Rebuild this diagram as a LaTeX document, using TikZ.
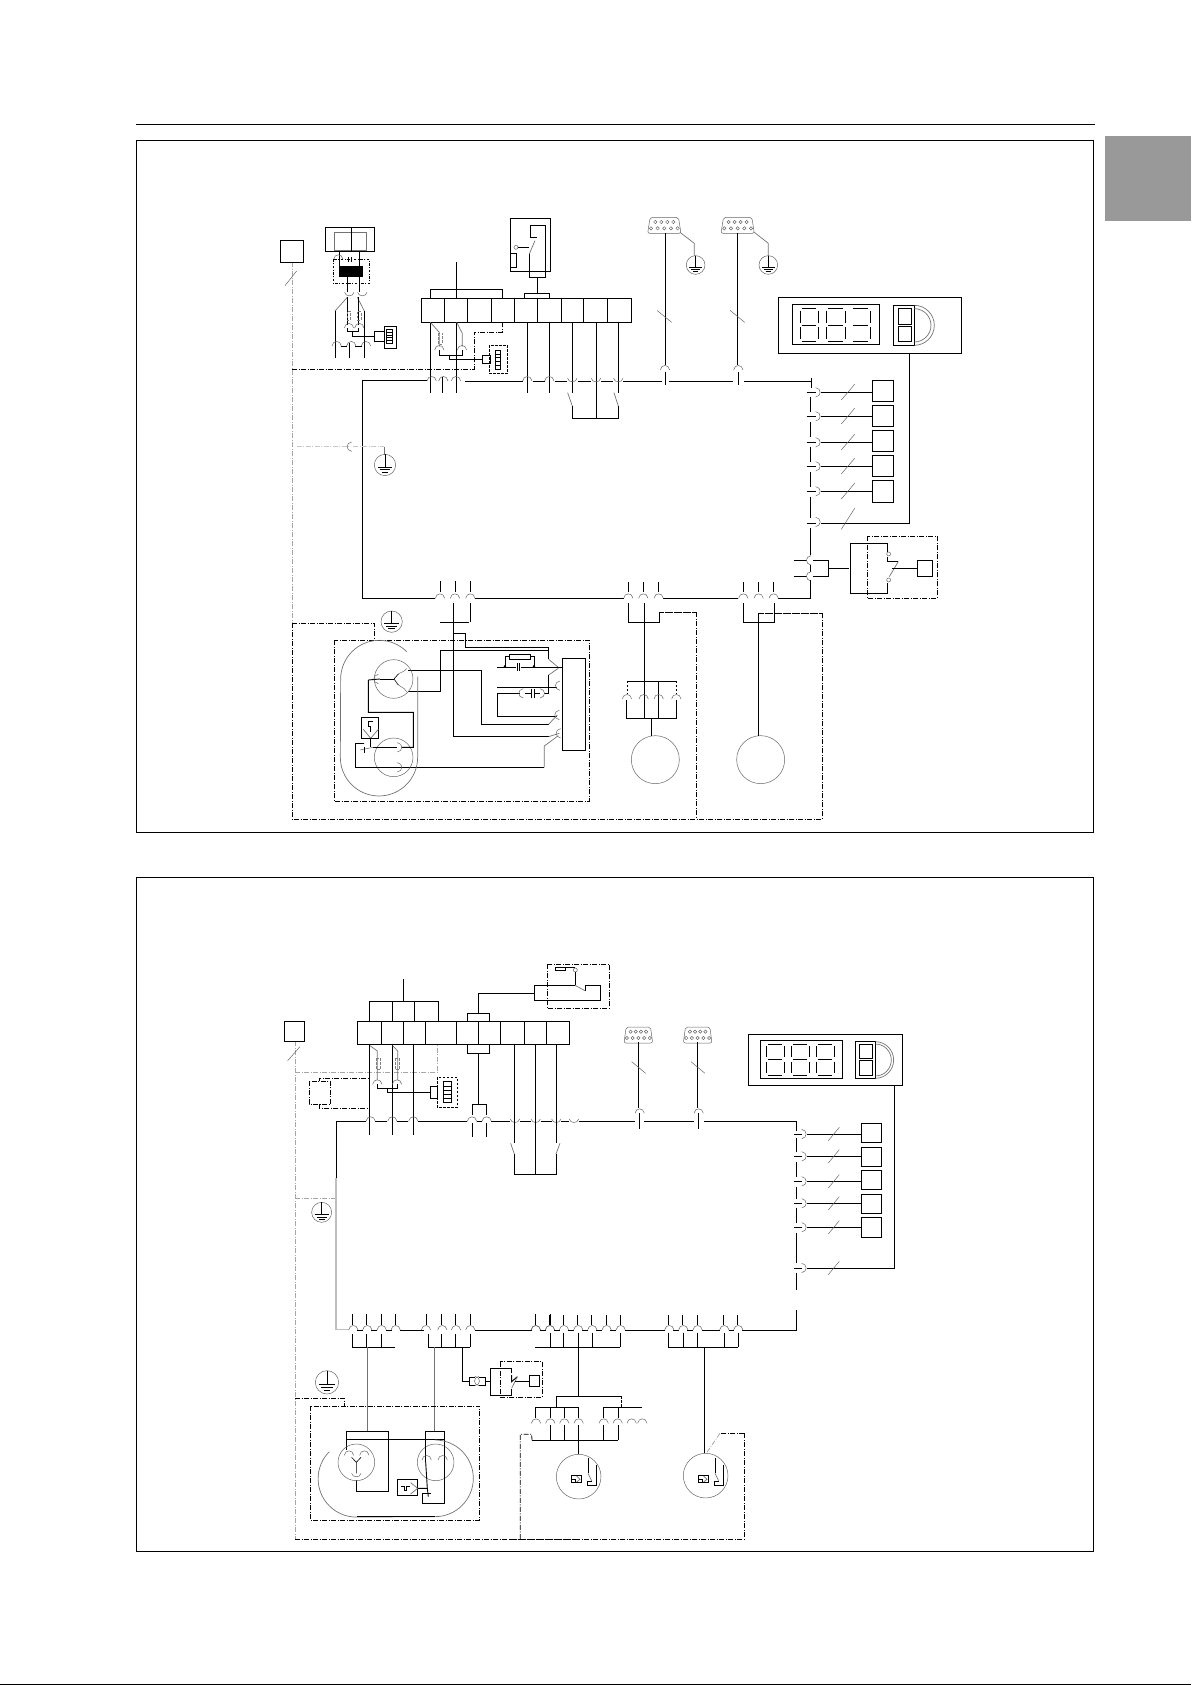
\documentclass[tikz,border=0pt]{standalone}
\tikzset{wire/.style = {line width = 0.9pt, black, line join = miter}}
\tikzset{arcw/.style = {line width = 0.5pt, black!60}}
\tikzset{grayw/.style = {line width = 0.7pt, black!55}}
\tikzset{dd/.style = {line width = 0.8pt, dash pattern = on 5pt off 1.5pt on 1pt off 1.5pt}}
\tikzset{ddg/.style = {line width = 0.8pt, black!35, dash pattern = on 5pt off 1.5pt on 1pt off 1.5pt}}
\tikzset{dsh/.style = {line width = 0.8pt, dash pattern = on 2.5pt off 1.5pt}}
\tikzset{zoomed/.style = {x = 0.3333pt, y = -0.3333pt}}
\newcommand{\capu}[2]{\draw[arcw] (#1-14,#2) .. controls (#1-12,#2-18) and (#1+12,#2-18) .. (#1+14,#2);}
\newcommand{\capd}[2]{\draw[arcw] (#1-14,#2) .. controls (#1-12,#2+14) and (#1+12,#2+14) .. (#1+14,#2);}
\newcommand{\capr}[2]{\draw[arcw] (#1,#2-14) .. controls (#1+18,#2-12) and (#1+18,#2+12) .. (#1,#2+14);}
\newcommand{\capl}[2]{\draw[arcw] (#1,#2-14) .. controls (#1-18,#2-12) and (#1-18,#2+12) .. (#1,#2+14);}
\newcommand{\gnd}[3]{\draw[arcw] (#1,#2) circle (#3);
  \draw[wire, line width = 0.6pt] (#1,#2-#3) -- (#1,#2+.2*#3) (#1-.7*#3,#2+.2*#3) -- (#1+.7*#3,#2+.2*#3)
    (#1-.5*#3,#2+.45*#3) -- (#1+.5*#3,#2+.45*#3) (#1-.3*#3,#2+.65*#3) -- (#1+.3*#3,#2+.65*#3);}
\newcommand{\dbnine}[3]{\draw[arcw, rounded corners = 2pt] (#1-#3*.85,#2-24) -- (#1+#3*.85,#2-24) -- (#1+#3,#2+24) -- (#1-#3,#2+24) -- cycle;
  \foreach \dx in {-.54,-.18,.18,.54} {\draw[arcw] (#1+#3*\dx,#2-10) circle (5);}
  \foreach \dx in {-.8,-.4,0,.4,.8} {\draw[arcw] (#1+#3*\dx,#2+9) circle (5);}}
\newcommand{\segh}[4]{\draw[wire, line width = 0.6pt] (#1+.1*#3,#2) -- (#1+.9*#3,#2) (#1+.1*#3,#2+.5*#4) -- (#1+.9*#3,#2+.5*#4) (#1+.1*#3,#2+#4) -- (#1+.9*#3,#2+#4)
  (#1+#3,#2+.07*#4) -- (#1+#3,#2+.43*#4) (#1+#3,#2+.57*#4) -- (#1+#3,#2+.93*#4);}
\newcommand{\segv}[4]{\draw[wire, line width = 0.6pt] (#1,#2+.07*#4) -- (#1,#2+.43*#4) (#1,#2+.57*#4) -- (#1,#2+.93*#4);}
\newcommand{\ladder}[4]{\draw[wire, line width = 0.6pt] (#1,#2) rectangle (#1+#3,#2+#4);
  \foreach \dy in {.2,.4,.6,.8} {\draw[wire, line width = 0.6pt] (#1,#2+\dy*#4) -- (#1+#3,#2+\dy*#4);}}
\begin{document}
\begin{tikzpicture}[x=1pt,y=-1pt]
\useasboundingbox (0,0) rectangle (1191,1685);
\draw[wire] (136,124.3) -- (1095,124.3);
\draw[wire] (136.3,140.3) rectangle (1093.3,832);
\draw[wire] (136.3,877.5) rectangle (1093.3,1551.7);
\fill[black!40] (1105,136) rectangle (1191,220.7);
\draw[wire] (0,1684.3) -- (1191,1684.3);
% upper diagram, long lines
\draw[ddg] (292.3,262.3) -- (292.3,623.3);
\draw[dd] (292.3,623.3) -- (292.3,819.3) -- (822.3,819.3) -- (822.3,613.3) -- (758.3,613.3);
\draw[dd] (696.7,612.3) -- (696.7,819.3);
\draw[dd] (659.3,622.3) -- (659.3,612.3) -- (696.7,612.3);
\draw[wire] (362.3,380.7) -- (362.3,598.3);
% upper diagram, top left
\begin{scope}[shift={(250,200)},zoomed]
\draw[wire] (91,122) rectangle (160,187);
\draw[arcw] (105,257) -- (140,213);
\draw[wire] (226,82) rectangle (373,155);
\draw[grayw] (253,97) rectangle (350,150);
\draw[wire] (304,82) -- (304,155);
\draw[wire] (268,155) -- (268,198) (328,155) -- (328,198);
\capu{265}{178}
\draw[wire, line width = 0.6pt] (295,172) -- (295,185) (303,172) -- (303,185);
\draw[dd, dash pattern = on 2.5pt off 1.5pt on 1pt off 1.5pt] (250,178) rectangle (359,250);
\fill (267,198) rectangle (339,230);
\draw[wire] (292,230) -- (292,275) (328,230) -- (328,275);
\capd{298}{277}
\capd{337}{277}
\draw[grayw] (292,292) -- (255,333) (322,292) -- (343,333);
\draw[wire] (255,333) -- (255,430) (343,333) -- (343,430);
\draw[wire] (292,292) -- (292,375) (325,292) -- (325,375);
\draw[dsh, gray] (292,335) rectangle (302,360);
\draw[dsh, gray] (323,335) rectangle (333,360);
\capu{297}{384}
\capu{328}{384}
\draw[wire] (292,385) -- (292,395) -- (325,395) -- (325,385);
\draw[wire] (307,395) -- (307,410) -- (372,410);
\draw[wire] (372,393) rectangle (402,425);
\draw[wire] (402,378) rectangle (440,446);
\ladder{410}{388}{16}{42}
\capu{260}{438}
\capu{304}{438}
\capu{348}{438}
\draw[wire] (272,438) -- (292,438) (316,438) -- (336,438);
\draw[wire] (255,430) -- (255,475) (298,430) -- (298,475) (343,430) -- (343,475);
% terminal block
\draw[wire] (514,295) rectangle (1144,367);
\foreach \xa in {583,652,724,793,862,934,1000,1072} {\draw[wire] (\xa,295) -- (\xa,367);}
\draw[wire] (541,295) -- (541,268) -- (757,268) -- (757,295);
\draw[wire] (619,186) -- (619,295);
\draw[wire] (823,295) -- (823,280) -- (898,280) -- (898,295);
\draw[wire] (862,233) -- (862,280);
\draw[wire] (781,55) rectangle (902,215);
\draw[wire] (841,112) -- (841,77) -- (886,77) -- (886,233) -- (838,233) -- (838,162);
\draw[wire] (841,112) -- (862,112);
\draw[grayw] (838,162) -- (855,122);
\draw[arcw] (798,142) circle (6);
\draw[wire] (804,142) -- (838,142);
\draw[wire] (781,160) rectangle (800,203);
% wires below block
\foreach \xa in {832,898} {\draw[wire] (\xa,367) -- (\xa,580);}
\draw[wire] (967,367) -- (967,580) (1105,367) -- (1105,580);
\draw[wire] (1038,367) -- (1038,655);
\draw[wire] (967,618) -- (967,655) -- (1105,655) -- (1105,618);
\draw[grayw] (967,618) -- (953,578) (1105,618) -- (1092,578);
\draw[wire] (541,367) -- (541,578) (619,367) -- (619,578) (577,530) -- (577,578);
\draw[grayw] (541,367) -- (568,397) -- (568,440) (620,367) -- (637,400) -- (637,440);
\draw[dsh, gray] (565,400) rectangle (578,432);
\capu{568}{450}
\capu{636}{450}
\draw[wire] (568,450) -- (568,465) -- (637,465) -- (637,450);
\draw[wire] (598,465) -- (598,478) -- (697,478);
\draw[wire] (697,466) rectangle (720,490);
\draw[dsh] (718,436) rectangle (773,520);
\ladder{735}{450}{17}{58}
\draw[dd] (127,508) -- (673,508) -- (673,397) -- (757,397) -- (757,365);
% bus
\draw[wire] (337,542) -- (530,542) (645,545) -- (818,545) (848,545) -- (884,545) (914,545) -- (952,545);
\draw[wire] (983,545) -- (1024,545) (1054,545) -- (1090,545) (1120,545) -- (1235,545) (1258,545) -- (1350,545);
\foreach \xa in {545,580,618,832,898} {\capu{\xa}{543}}
\foreach \xa in {967,1038,1105} {\capd{\xa}{535}}
% connector and ground
\dbnine{1243}{76}{50}
\capu{1245}{510}
\draw[wire] (1245,100) -- (1245,495) (1247,515) -- (1247,556);
\draw[grayw] (1290,97) -- (1333,130) -- (1333,168);
\gnd{1337}{195}{28}
\draw[arcw] (1222,332) -- (1265,367);
\draw[ddg, black!22] (140,740) -- (295,740) (310,740) -- (403,740);
\capl{305}{740}
\draw[wire, grayw] (403,740) -- (403,765);
\gnd{405}{795}{32}
\end{scope}
% upper diagram, right side
\begin{scope}[shift={(650,200)},zoomed]
\draw[wire] (58,545) -- (248,545) (282,545) -- (485,545);
\dbnine{263}{76}{50}
\draw[wire] (263,100) -- (263,495) (265,515) -- (265,556);
\capu{265}{510}
\draw[grayw] (313,97) -- (355,130) -- (355,168);
\gnd{355}{195}{28}
\draw[arcw] (240,331) -- (284,367);
\draw[wire] (385,292) rectangle (934,460);
\draw[wire] (427,313) rectangle (689,434);
\segh{450}{325}{55}{100}
\segv{450}{325}{55}{100}
\segh{530}{325}{55}{100}
\segv{530}{325}{55}{100}
\segh{605}{325}{55}{100}
\draw[wire] (730,316) rectangle (793,437);
\draw[wire] (745,325) rectangle (785,372);
\draw[wire] (745,378) rectangle (785,425);
\draw[grayw] (793,316) arc[start angle = -90, end angle = 90, radius = 60];
\draw[grayw] (793,326) arc[start angle = -90, end angle = 90, radius = 50];
\draw[wire] (485,535) -- (485,563);
\foreach \ya/\yb in {592/635,665/710,740/785,815/860,890/955,985/1065,1095/1115,1145/1195} {\draw[wire] (482,\ya) -- (482,\yb);}
\foreach \yl/\yt/\yb in {577/541/605,649/616/680,727/691/755,799/766/830,874/841/907} {
  \draw[wire] (470,\yl) -- (497,\yl) (513,\yl) -- (667,\yl);
  \capr{497}{\yl}
  \draw[wire] (667,\yt) rectangle (730,\yb);
  \draw[arcw] (574,\yl+23) -- (614,\yl-24);
}
\draw[wire] (470,970) -- (497,970) (513,970) -- (778,970) -- (778,460);
\capr{497}{966}
\draw[arcw] (574,988) -- (614,925);
\draw[wire] (432,1081) -- (470,1081) (490,1081) -- (535,1081) -- (535,1129) -- (490,1129) (432,1129) -- (470,1129);
\capl{483}{1081}
\capl{483}{1129}
\draw[wire] (535,1105) -- (597,1105);
\draw[wire] (713,1055) -- (713,1031) -- (601,1031) -- (601,1180) -- (713,1180) -- (713,1150);
\draw[wire] (713,1070) -- (713,1085) -- (745,1085);
\draw[grayw] (745,1085) -- (718,1130);
\draw[arcw] (716,1062) circle (6);
\draw[arcw] (716,1140) circle (6);
\draw[wire] (727,1105) -- (802,1105);
\draw[wire] (802,1081) rectangle (848,1129);
\draw[wire, line width = 1.4pt] (848,1081) -- (848,1129);
\draw[dd] (652,1009) rectangle (862,1195);
\end{scope}
% upper diagram, motor
\begin{scope}[shift={(280,570)},zoomed]
\draw[wire] (247,85) -- (465,85) (585,85) -- (1020,85);
\foreach \xa in {480,525,571} {\capu{\xa}{85} \draw[wire] (\xa,33) -- (\xa,66);}
\draw[wire] (571,100) -- (571,157) (480,158) -- (567,158);
\draw[wire] (521,100) -- (521,500) -- (806,500);
\draw[grayw] (806,500) -- (838,490);
\draw[wire] (521,190) -- (556,190) -- (556,232) -- (806,232) -- (806,268);
\draw[grayw] (806,268) -- (835,292);
\draw[wire] (481,240) -- (806,240) (481,240) -- (481,363) -- (385,363);
\draw[grayw] (806,315) -- (835,295);
\draw[wire] (806,315) -- (806,370) -- (792,370);
\draw[wire] (720,370) -- (652,370) -- (652,439) -- (830,439);
\capl{838}{435}
\capr{780}{370}
\capl{730}{370}
\draw[wire] (735,370) -- (752,370) (765,370) -- (780,370);
\draw[wire] (755,358) -- (755,384) (762,358) -- (762,384);
\draw[wire] (688,253) rectangle (750,268);
\draw[wire] (688,260) -- (675,260) -- (675,292) (750,260) -- (762,260) -- (762,292);
\draw[wire] (652,292) -- (708,292) (722,292) -- (845,292);
\draw[wire] (711,280) -- (711,304) (719,280) -- (719,304);
\fill (675,289) circle (4) (762,289) circle (4);
\draw[wire] (652,352) -- (832,352);
\capl{840}{347}
\draw[wire] (385,300) -- (605,300) -- (605,463) -- (806,463);
\draw[grayw] (806,463) -- (832,435);
\draw[wire] (848,265) rectangle (916,541);
\draw[wire] (350,592) -- (793,592);
\draw[grayw] (793,592) -- (793,528) -- (835,497);
\capl{842}{490}
\draw[dd] (163,211) rectangle (928,694);
\draw[dd] (37,160) -- (283,160) -- (283,211);
\gnd{335}{155}{32}
\draw[grayw] (380,245) arc[start angle = -45, end angle = -180, radius = 116] -- (181,562) arc[start angle = 180, end angle = 0, radius = 116] -- (413,320);
\draw[arcw] (341,327) circle (58);
\draw[arcw] (341,562) circle (58);
\draw[wire] (265,330) -- (300,327) (265,330) -- (265,427) -- (400,427) -- (400,532) -- (365,532);
\draw[wire] (300,327) -- (342,327);
\draw[wire, line width = 0.6pt] (342,327) -- (355,312) (342,327) -- (355,345);
\draw[arcw] (350,318) .. controls (358,305) and (372,308) .. (380,296);
\draw[arcw] (350,338) .. controls (358,352) and (372,350) .. (380,365);
\capl{295}{327}
\draw[wire] (350,532) -- (280,532);
\draw[arcw] (280,532) -- (240,540);
\draw[wire] (244,441) rectangle (296,505);
\draw[wire] (265,455) -- (265,470) -- (272,470) -- (272,485) (265,455) -- (280,455);
\draw[grayw] (250,478) -- (272,505) -- (295,478);
\draw[wire] (272,505) -- (272,532);
\draw[wire] (253,532) -- (253,548);
\draw[wire] (253,520) -- (226,520) -- (226,592) -- (350,592);
\capr{352}{532}
\capr{352}{592}
\end{scope}
\begin{scope}[shift={(600,570)},zoomed]
\draw[wire] (0,85) -- (72,85) (190,85) -- (415,85) (535,85) -- (632,85) -- (632,30);
\foreach \xa in {85,130,176,430,476,521} {\capu{\xa}{85} \draw[wire] (\xa,37) -- (\xa,66);}
\draw[wire] (85,100) -- (85,157) -- (178,157) -- (178,127);
\draw[dd] (178,127) -- (290,127);
\draw[wire] (133,100) -- (133,445);
\draw[wire] (82,333) -- (229,333);
\draw[dsh] (82,333) -- (82,370) (229,333) -- (229,370);
\draw[wire] (176,333) -- (176,445);
\foreach \xa in {81,131,176,229} {\capu{\xa}{387}}
\draw[wire] (80,390) -- (80,445) -- (229,445) -- (229,390);
\draw[wire] (154,445) -- (154,497);
\draw[arcw] (166,569) circle (72);
\draw[arcw] (482,569) circle (72);
\draw[wire] (430,100) -- (430,157) -- (523,157) -- (523,100);
\draw[wire] (475,130) -- (475,497);
\draw[dd] (475,130) -- (667,130);
\end{scope}
% lower diagram, top left
\draw[ddg] (295,1041.3) -- (295,1539.3);
\begin{scope}[shift={(270,950)},zoomed]
\draw[wire] (43,214) rectangle (103,274);
\draw[arcw] (53,332) -- (90,290);
\draw[ddg] (75,366) -- (503,366) -- (503,283);
\draw[ddg] (75,745) -- (198,745);
\draw[black!25, line width = 1.4pt] (198,685) -- (198,1138) -- (238,1138);
\draw[wire] (198,685) -- (198,514) -- (288,514);
\draw[wire] (262,214) rectangle (898,283);
\foreach \xa in {334,400,466,559,625,691,763,829} {\draw[wire] (\xa,214) -- (\xa,283);}
\draw[wire] (298,214) -- (298,154) -- (505,154) -- (505,214);
\draw[wire] (367,154) -- (367,214) (433,154) -- (433,214);
\draw[wire] (400,87) -- (400,154);
\draw[wire] (592,214) -- (592,190) -- (658,190) -- (658,214);
\draw[wire] (592,283) -- (592,310) -- (658,310) -- (658,283);
\draw[wire] (625,190) -- (625,130) -- (793,130);
\draw[wire] (915,106) -- (793,106) -- (793,151) -- (991,151) -- (991,106) -- (945,106) -- (945,122);
\draw[grayw] (945,122) -- (915,106);
\draw[dd] (832,43) rectangle (1018,175);
\draw[wire] (856,52) rectangle (886,61);
\draw[wire] (886,52) -- (916,52);
\draw[arcw] (916,60) circle (6);
\draw[wire] (916,66) -- (916,106);
\draw[wire] (625,310) -- (625,463) (607,495) -- (607,463) -- (650,463) -- (650,495);
\draw[wire] (298,283) -- (298,556) (367,283) -- (367,556) (430,283) -- (430,556);
\draw[grayw] (300,287) -- (322,303) -- (322,390) (368,287) -- (383,303) -- (383,390);
\draw[dsh, gray] (319,325) rectangle (332,358);
\draw[dsh, gray] (376,325) rectangle (389,358);
\capu{322}{403}
\capu{381}{403}
\draw[wire] (322,403) -- (322,415) -- (381,415) -- (381,403);
\draw[wire] (352,415) -- (352,428) -- (480,428);
\draw[wire] (480,408) rectangle (502,445);
\draw[dsh] (502,382) rectangle (562,472);
\ladder{520}{395}{25}{63}
\draw[dd] (118,394) rectangle (182,463);
\draw[dd] (148,394) -- (148,385) -- (298,385) (148,463) -- (148,475) -- (298,475);
\draw[wire] (315,514) -- (352,514) (380,514) -- (415,514) (445,514) -- (592,514) (620,514) -- (636,514) (664,514) -- (720,514);
\draw[wire] (750,514) -- (783,514) (812,514) -- (845,514) (874,514) -- (897,514) (926,514) -- (1080,514);
\foreach \xa in {302,367,430,606,650} {\capu{\xa}{514}}
\foreach \xa in {735,797,859,912} {\capd{\xa}{507}}
\draw[wire] (606,520) -- (606,560) (650,520) -- (650,560);
\draw[wire] (733,283) -- (733,580) (797,283) -- (797,672) (859,283) -- (859,580);
\draw[wire] (733,612) -- (733,672) -- (858,672) -- (858,612);
\draw[grayw] (722,580) -- (733,612) (858,612) -- (870,580);
\gnd{155}{787}{30}
\end{scope}
% lower diagram, right side
\begin{scope}[shift={(600,1010)},zoomed]
\draw[wire] (0,333) -- (105,333) (132,333) -- (283,333) (312,333) -- (590,333);
\dbnine{115}{75}{43}
\dbnine{293}{75}{43}
\draw[wire] (115,97) -- (115,295) (119,310) -- (119,358) (293,97) -- (293,295) (296,310) -- (296,358);
\capu{119}{310}
\capu{296}{310}
\draw[arcw] (95,155) -- (137,190) (273,155) -- (315,190);
\draw[wire] (445,73) rectangle (907,227);
\draw[wire] (481,90) rectangle (728,206);
\foreach \xa in {500,575,650} {\segh{\xa}{102}{52}{94} \segv{\xa}{102}{52}{94}}
\draw[wire] (766,94) rectangle (826,206);
\draw[wire] (778,102) rectangle (818,145);
\draw[wire] (778,151) rectangle (818,196);
\draw[grayw] (826,95) arc[start angle = -90, end angle = 90, radius = 55];
\draw[grayw] (826,102) arc[start angle = -90, end angle = 90, radius = 48];
\foreach \ya/\yb in {333/362,385/425,455/500,530/568,595/638,668/758,790/840} {\draw[wire] (590,\ya) -- (590,\yb);}
\foreach \yl/\yt/\yb in {372/340/398,439/412/469,514/481/539,580/553/610,652/622/683} {
  \draw[wire] (582,\yl) -- (605,\yl) (622,\yl) -- (784,\yl);
  \capr{605}{\yl}
  \draw[wire] (784,\yt) rectangle (845,\yb);
  \draw[arcw] (685,\yl+20) -- (718,\yl-20);
}
\draw[wire] (582,774) -- (605,774) (622,774) -- (883,774) -- (883,227);
\capr{605}{774}
\draw[arcw] (685,794) -- (718,754);
\end{scope}
\begin{scope}[shift={(280,1310)},zoomed]
\draw[wire] (360,60) -- (432,60) (585,60) -- (752,60);
\foreach \xa in {220,262,305,347,438,487,528,571,767,810} {\capu{\xa}{60}}
\draw[wire] (232,60) -- (248,60) (274,60) -- (291,60) (317,60) -- (335,60);
\foreach \xa in {217,259,304,347,438,484,526,571,767,810} {\draw[wire] (\xa,12) -- (\xa,44);}
\draw[wire] (217,72) -- (217,112) (259,72) -- (259,112) (304,72) -- (304,112) (217,112) -- (345,112);
\draw[wire] (445,72) -- (445,112) (484,72) -- (484,112) (526,72) -- (526,112) (571,72) -- (571,112) (445,112) -- (571,112);
\draw[grayw, line width = 1pt] (263,112) -- (263,364) (464,112) -- (464,364);
\draw[wire] (547,112) -- (547,213) -- (567,213);
\draw[wire] (585,202) -- (567,202) -- (567,226) -- (585,226) (597,202) -- (615,202) -- (615,226) -- (597,226);
\capr{585}{213}
\capl{597}{213}
\draw[wire] (615,213) -- (631,213);
\draw[wire] (695,190) -- (695,175) -- (631,175) -- (631,255) -- (695,255) -- (695,238);
\draw[wire] (695,195) -- (695,215) -- (712,200);
\draw[grayw] (712,200) -- (695,235);
\draw[wire] (705,213) -- (748,213);
\draw[wire] (748,197) rectangle (779,229);
\draw[dd] (660,155) rectangle (787,262);
\gnd{141}{217}{35}
\draw[dd] (45,265) -- (193,265) -- (193,288);
\draw[dd] (92,288) rectangle (598,631);
\draw[dd] (45,688) -- (900,688);
\draw[wire] (199,420) -- (199,364) -- (325,364) -- (325,544) -- (229,544) -- (229,510);
\draw[wire] (199,388) -- (493,388);
\draw[arcw] (229,457) circle (55);
\draw[arcw] (467,457) circle (55);
\draw[wire, line width = 0.6pt] (215,442) -- (229,457) -- (243,442) (229,457) -- (229,490);
\capu{207}{436}
\capu{253}{436}
\capd{229}{490}
\draw[wire] (437,455) -- (437,364) -- (493,364) -- (493,580) -- (427,580) -- (427,550) -- (452,550);
\draw[wire] (437,455) -- (442,535) -- (413,535);
\draw[wire] (442,535) -- (445,560);
\capu{440}{450}
\capu{488}{450}
\draw[wire] (352,508) rectangle (413,556);
\draw[wire] (362,528) -- (372,528) -- (372,540) -- (380,540) -- (380,528) -- (390,528);
\draw[grayw] (392,518) -- (413,535) -- (392,552);
\draw[grayw] (148,425) arc[start angle = -135, end angle = -270, radius = 115] -- (465,620) arc[start angle = 90, end angle = -90, radius = 115];
\draw[wire] (230,620) -- (465,620);
\end{scope}
\begin{scope}[shift={(510,1310)},zoomed]
\draw[wire] (345,60) -- (465,60) (575,60) -- (630,60) (697,60) -- (858,60) -- (858,0);
\draw[wire] (0,60) -- (66,60) (90,60) -- (108,60) (132,60) -- (150,60) (174,60) -- (192,60) (216,60) -- (234,60) (258,60) -- (277,60) (301,60) -- (319,60);
\draw[wire] (490,60) -- (507,60) (532,60) -- (550,60) (656,60) -- (672,60);
\foreach \xa in {78,120,162,205,247,290,332,478,520,563,643,685} {\capu{\xa}{60} \draw[wire] (\xa-2,15) -- (\xa-2,44);}
\draw[wire] (75,112) -- (330,112);
\foreach \xa in {121,160,205,247,330} {\draw[wire] (\xa,68) -- (\xa,112);}
\draw[wire] (475,112) -- (685,112);
\foreach \xa in {475,520,562,643,685} {\draw[wire] (\xa,68) -- (\xa,112);}
\draw[wire] (583,112) -- (583,430);
\draw[wire] (205,112) -- (205,258) (139,292) -- (139,258) -- (334,258);
\draw[dsh] (334,258) -- (334,292);
\draw[wire] (76,325) -- (76,292) -- (205,292) -- (205,325) (121,292) -- (121,325) (163,292) -- (163,325);
\draw[wire] (325,325) -- (325,292) (280,325) -- (280,292) -- (395,292);
\foreach \xa in {78,121,163,206,281,323,365,397} {\capu{\xa}{340}}
\foreach \xa in {121,163,205,281,325} {\draw[wire] (\xa,345) -- (\xa,391);}
\draw[wire] (66,391) -- (325,391) (205,391) -- (205,432);
\draw[dd] (66,391) -- (65,373) -- (31,373) -- (31,688);
\draw[dd] (703,370) -- (703,688) -- (0,688);
\draw[dd] (703,370) -- (630,370);
\draw[ddg] (630,370) -- (590,428);
\foreach \xs/\cy in {0/500,381/497} {
  \begin{scope}[xshift=\xs*.3333pt]
  \draw[arcw] (206,\cy) circle (67);
  \draw[wire] (185,495) rectangle (215,518);
  \draw[wire] (185,508) rectangle (195,518);
  \draw[grayw] (200,498) -- (210,508) -- (200,516);
  \draw[wire] (234,445) -- (234,490);
  \draw[grayw] (234,490) -- (245,512);
  \draw[wire] (259,465) -- (259,525) -- (232,525) -- (232,513) -- (245,513);
  \end{scope}
}
\end{scope}
\end{tikzpicture}
\end{document}
